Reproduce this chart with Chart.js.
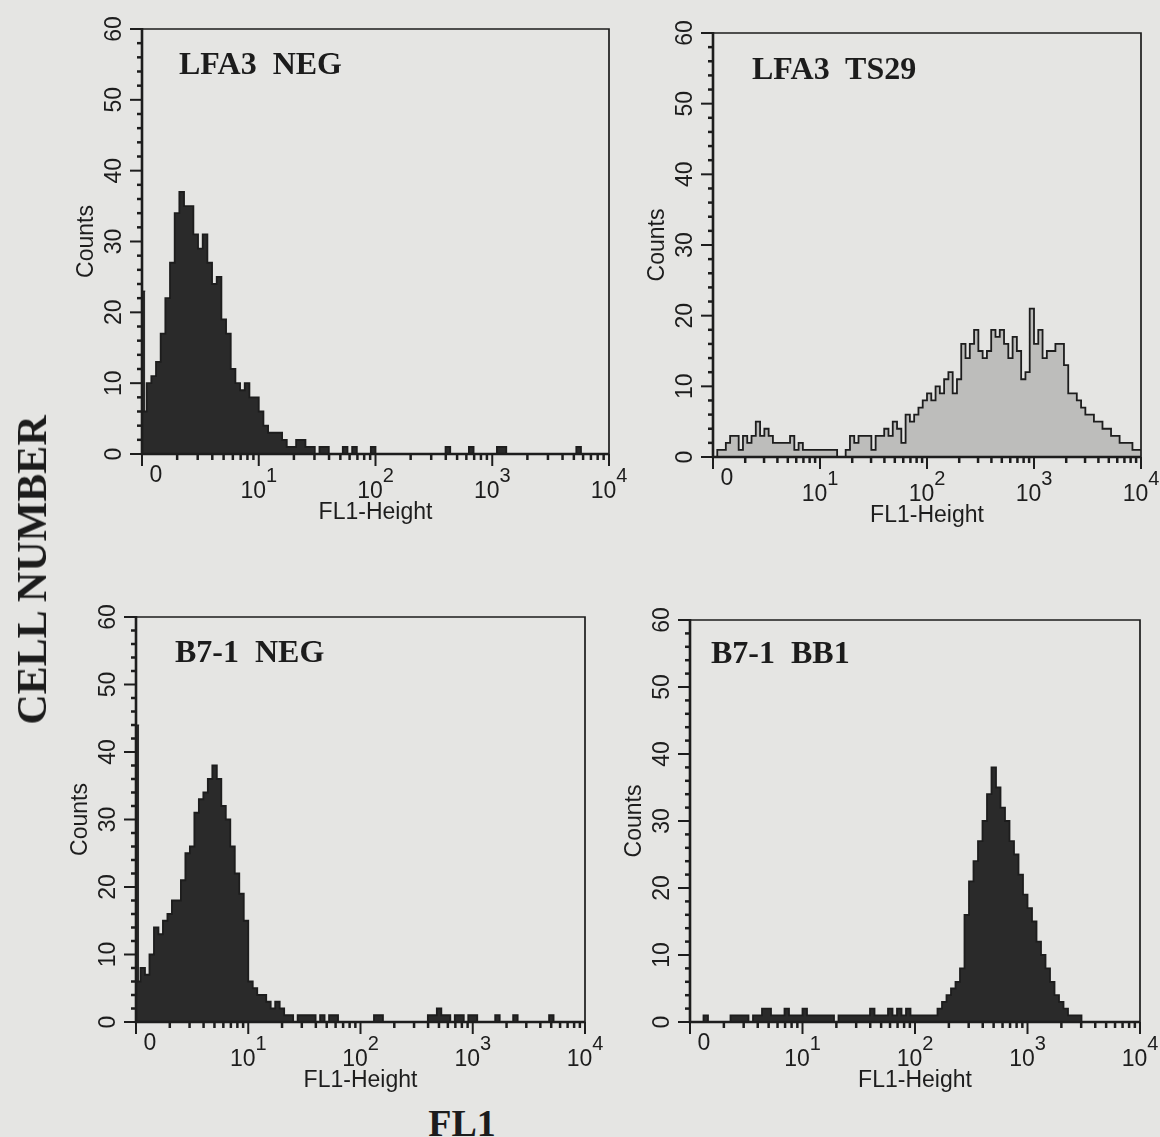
<!DOCTYPE html>
<html>
<head>
<meta charset="utf-8">
<title>FL1 histograms</title>
<script src="https://cdn.jsdelivr.net/npm/chart.js@4.4.1/dist/chart.umd.min.js"></script>
<style>
  body { margin: 0; width: 1160px; height: 1137px; background: #e5e5e3; position: relative; overflow: hidden; }
  canvas { position: absolute; }
  .ptitle { position: absolute; font: bold 32px "Liberation Serif", "Times New Roman", serif; line-height: 32px;
            color: #1c1c1c; white-space: pre; }
  .big { position: absolute; font: bold 42px "Liberation Serif", "Times New Roman", serif; color: #1c1c1c;
         white-space: pre; line-height: 1; }
</style>
</head>
<body>
<canvas id="p1"></canvas>
<canvas id="p2"></canvas>
<canvas id="p3"></canvas>
<canvas id="p4"></canvas>

<div class="ptitle" id="t1"></div>
<div class="ptitle" id="t2"></div>
<div class="ptitle" id="t3"></div>
<div class="ptitle" id="t4"></div>

<div class="big" id="cellNumber" style="left:32px; top:570px; transform:translate(-50%,-50%) rotate(-90deg);">CELL NUMBER</div>
<div class="big" id="fl1" style="left:462px; top:1123px; font-size:38px; transform:translate(-50%,-50%);">FL1</div>

<script>
// Histogram counts, 100 log-spaced channels from 10^0 to 10^4
const lfa3Neg = [
  15, 6, 10, 11, 13, 17, 22, 27, 34, 37,
  35, 35, 31, 29, 31, 27, 24, 25, 19, 17,
  12, 10, 9, 10, 8, 8, 6, 4, 3, 3,
  3, 2, 1, 1, 2, 2, 1, 1, 0, 1,
  1, 0, 0, 0, 1, 0, 1, 0, 0, 0,
  1, 0, 0, 0, 0, 0, 0, 0, 0, 0,
  0, 0, 0, 0, 0, 0, 1, 0, 0, 0,
  0, 1, 0, 0, 0, 0, 0, 1, 1, 0,
  0, 0, 0, 0, 0, 0, 0, 0, 0, 0,
  0, 0, 0, 0, 1, 0, 0, 0, 0, 0
];
const lfa3Ts29 = [
  1, 0, 1, 1, 2, 3, 3, 1, 3, 2,
  3, 5, 3, 4, 3, 2, 2, 2, 2, 3,
  1, 2, 1, 1, 1, 1, 1, 1, 1, 1,
  0, 0, 1, 3, 2, 3, 3, 3, 1, 3,
  3, 4, 3, 5, 4, 2, 6, 5, 6, 7,
  8, 9, 8, 10, 9, 11, 12, 9, 11, 16,
  14, 16, 18, 15, 14, 15, 18, 17, 18, 16,
  14, 17, 15, 11, 12, 21, 16, 18, 14, 15,
  15, 16, 16, 13, 9, 9, 8, 7, 6, 6,
  5, 5, 4, 4, 3, 3, 2, 2, 2, 1
];
const b71Neg = [
  24, 6, 8, 7, 10, 14, 13, 15, 16, 18,
  18, 21, 25, 26, 31, 33, 34, 36, 38, 36,
  32, 30, 26, 22, 19, 15, 6, 5, 4, 4,
  3, 2, 3, 2, 1, 1, 0, 1, 1, 1,
  1, 0, 1, 0, 1, 1, 0, 0, 0, 0,
  0, 0, 0, 0, 1, 1, 0, 0, 0, 0,
  0, 0, 0, 0, 0, 0, 1, 1, 2, 1,
  1, 0, 1, 1, 0, 1, 1, 0, 0, 0,
  0, 1, 0, 0, 0, 1, 0, 0, 0, 0,
  0, 0, 0, 1, 0, 0, 0, 0, 0, 0
];
const b71Bb1 = [
  0, 0, 0, 0, 1, 0, 0, 0, 0, 0,
  1, 1, 1, 1, 0, 1, 1, 2, 2, 1,
  1, 1, 2, 1, 1, 1, 2, 1, 1, 1,
  1, 1, 1, 0, 1, 1, 1, 1, 1, 1,
  1, 2, 1, 1, 1, 2, 1, 2, 1, 2,
  1, 1, 1, 1, 1, 1, 2, 3, 4, 5,
  6, 8, 16, 21, 24, 27, 30, 34, 38, 35,
  32, 30, 27, 25, 22, 19, 17, 15, 12, 10,
  8, 6, 4, 3, 2, 1, 1, 1, 0, 0,
  0, 0, 0, 0, 0, 0, 0, 0, 0, 0
];
// counts in the very first channel (thin spike against the y axis)
const firstChannel = [23, 0, 44, 0];

const panelTitles = ['LFA3  NEG', 'LFA3  TS29', 'B7-1  NEG', 'B7-1  BB1'];
const yTickValues = [0, 10, 20, 30, 40, 50, 60];
const xTickValues = [1, 10, 100, 1000, 10000];
const xTickBase = ['0', '10', '10', '10', '10'];
const xTickExp = ['', '1', '2', '3', '4'];

const NBINS = 100;
const binEdges = Array.from({ length: NBINS + 1 }, (_, i) => Math.pow(10, 4 * i / NBINS));

const INK = '#1d1d1d';
const SANS = '"Liberation Sans", Arial, Helvetica, sans-serif';

// plot box of each panel (value 10^0..10^4 / 0..60) in page pixels, and title baseline
const panels = [
  { id: 'p1', counts: lfa3Neg, fill: '#2a2a2a', box: [142, 29, 609, 454], title: [179, 74] },
  { id: 'p2', counts: lfa3Ts29, fill: '#bdbdbb', box: [713, 33, 1141, 457], title: [752, 79] },
  { id: 'p3', counts: b71Neg, fill: '#2a2a2a', box: [136, 617, 585, 1022], title: [175, 662] },
  { id: 'p4', counts: b71Bb1, fill: '#2a2a2a', box: [690, 620, 1140, 1022], title: [711, 663] }
];
const PAD = { left: 110, top: 32, right: 40, bottom: 72 };

function toSteps(counts) {
  const pts = counts.map((c, i) => ({ x: binEdges[i], y: c }));
  pts.push({ x: binEdges[NBINS], y: counts[NBINS - 1] });
  return pts;
}

// frame, tick marks and labels drawn from the chart's own scales
const facsAxes = {
  id: 'facsAxes',
  afterDatasetsDraw(chart) {
    const { ctx, chartArea: a, scales: { x, y } } = chart;
    ctx.save();
    ctx.strokeStyle = INK;
    ctx.fillStyle = INK;
    ctx.lineCap = 'butt';

    ctx.lineWidth = 1.7;
    ctx.beginPath();
    ctx.moveTo(a.left, a.top);
    ctx.lineTo(a.right, a.top);
    ctx.lineTo(a.right, a.bottom);
    ctx.stroke();
    ctx.lineWidth = 2.6;
    ctx.beginPath();
    ctx.moveTo(a.left, a.top - 1);
    ctx.lineTo(a.left, a.bottom);
    ctx.lineTo(a.right, a.bottom);
    ctx.stroke();

    // y ticks every 2 counts, long ones at labelled values
    for (let v = 0; v <= 60; v += 2) {
      const py = y.getPixelForValue(v);
      const major = yTickValues.includes(v);
      ctx.lineWidth = major ? 2 : 2.5;
      ctx.beginPath();
      ctx.moveTo(a.left - (major ? 12 : 5), py);
      ctx.lineTo(a.left, py);
      ctx.stroke();
    }
    ctx.font = '23px ' + SANS;
    ctx.textAlign = 'center';
    ctx.textBaseline = 'middle';
    yTickValues.forEach(v => {
      ctx.save();
      ctx.translate(a.left - 27, y.getPixelForValue(v));
      ctx.rotate(-Math.PI / 2);
      ctx.fillText(String(v), 0, 0);
      ctx.restore();
    });

    // x ticks: decades long, 2..9 short
    for (let d = 0; d < 4; d++) {
      for (let m = 1; m <= 9; m++) {
        const px = x.getPixelForValue(m * Math.pow(10, d));
        ctx.lineWidth = m === 1 ? 2 : 2.5;
        ctx.beginPath();
        ctx.moveTo(px, a.bottom);
        ctx.lineTo(px, a.bottom + (m === 1 ? 12 : 6));
        ctx.stroke();
      }
    }
    const pEnd = x.getPixelForValue(10000);
    ctx.lineWidth = 2;
    ctx.beginPath();
    ctx.moveTo(pEnd, a.bottom);
    ctx.lineTo(pEnd, a.bottom + 12);
    ctx.stroke();

    xTickValues.forEach((v, i) => {
      const px = x.getPixelForValue(v);
      ctx.textBaseline = 'alphabetic';
      if (!xTickExp[i]) {
        ctx.font = '23px ' + SANS;
        ctx.textAlign = 'center';
        ctx.fillText(xTickBase[i], px + 14, a.bottom + 28);
        return;
      }
      ctx.font = '23px ' + SANS;
      const w1 = ctx.measureText(xTickBase[i]).width;
      ctx.font = '20px ' + SANS;
      const w2 = ctx.measureText(xTickExp[i]).width;
      const x0 = px - (w1 + w2) / 2;
      ctx.textAlign = 'left';
      ctx.font = '23px ' + SANS;
      ctx.fillText(xTickBase[i], x0, a.bottom + 44);
      ctx.font = '20px ' + SANS;
      ctx.fillText(xTickExp[i], x0 + w1, a.bottom + 28);
    });

    // axis titles
    ctx.font = '23px ' + SANS;
    ctx.textAlign = 'center';
    ctx.textBaseline = 'middle';
    ctx.fillText('FL1-Height', (a.left + a.right) / 2, a.bottom + 59);
    ctx.save();
    ctx.translate(a.left - 55, (a.top + a.bottom) / 2);
    ctx.rotate(-Math.PI / 2);
    ctx.fillText('Counts', 0, 0);
    ctx.restore();

    ctx.restore();
  }
};

panels.forEach((p, k) => {
  const [L, T, R, B] = p.box;
  const canvas = document.getElementById(p.id);
  const w = R - L + PAD.left + PAD.right;
  const h = B - T + PAD.top + PAD.bottom;
  canvas.width = w;
  canvas.height = h;
  canvas.style.left = (L - PAD.left) + 'px';
  canvas.style.top = (T - PAD.top) + 'px';
  canvas.style.width = w + 'px';
  canvas.style.height = h + 'px';

  const datasets = [{
    data: toSteps(p.counts),
    stepped: 'after',
    fill: 'origin',
    backgroundColor: p.fill,
    borderColor: INK,
    borderWidth: 1.8,
    pointRadius: 0
  }];
  if (firstChannel[k] > 0) {
    datasets.push({
      data: [{ x: 1, y: firstChannel[k] }, { x: Math.pow(10, 0.028), y: firstChannel[k] }],
      stepped: 'after',
      fill: 'origin',
      backgroundColor: p.fill,
      borderColor: INK,
      borderWidth: 1,
      pointRadius: 0
    });
  }

  new Chart(canvas, {
    type: 'line',
    data: { datasets },
    options: {
      responsive: false,
      animation: false,
      devicePixelRatio: 1,
      layout: { padding: PAD },
      plugins: { legend: { display: false }, tooltip: { enabled: false } },
      scales: {
        x: { type: 'logarithmic', min: 1, max: 10000, display: false },
        y: { type: 'linear', min: 0, max: 60, display: false }
      }
    },
    plugins: [facsAxes]
  });

  const t = document.getElementById('t' + (k + 1));
  t.textContent = panelTitles[k];
  t.style.left = p.title[0] + 'px';
  t.style.top = (p.title[1] - 26.8) + 'px';
});
</script>
</body>
</html>
